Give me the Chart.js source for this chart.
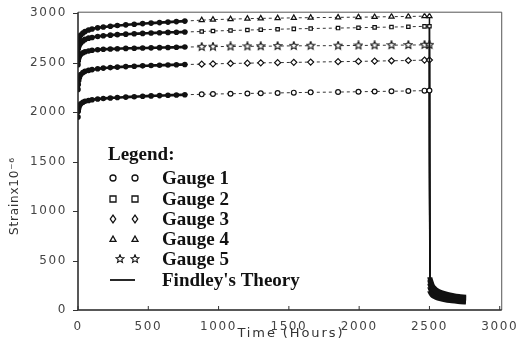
<!DOCTYPE html>
<html>
<head>
<meta charset="utf-8">
<script src="https://cdn.jsdelivr.net/npm/chart.js@4.4.0/dist/chart.umd.min.js"></script>
<style>
  html, body { margin: 0; padding: 0; background: #fff; }
</style>
</head>
<body>
<canvas id="creepChart" width="517" height="349"></canvas>
<script>
// time axis samples (hours)
const earlyHours = [0, 2, 5, 10, 20, 35, 50, 75, 100, 140, 180, 230, 280, 340, 400, 460, 520, 580, 640, 700, 760];
const laterHours = [880, 960, 1085, 1205, 1300, 1420, 1535, 1655, 1850, 1995, 2110, 2230, 2350, 2465, 2500];
const recoveryHours = [2500, 2503, 2510, 2520, 2535, 2555, 2580, 2610, 2645, 2680, 2720, 2760];

// strain x 10^-6
const gauge1Early = [1950, 2010, 2040, 2065, 2085, 2100, 2110, 2118, 2125, 2132, 2138, 2143, 2148, 2152, 2156, 2160, 2164, 2167, 2170, 2173, 2176];
const gauge2Early = [2600, 2640, 2660, 2680, 2700, 2720, 2735, 2748, 2755, 2765, 2772, 2778, 2783, 2788, 2792, 2796, 2800, 2803, 2806, 2808, 2810];
const gauge3Early = [2230, 2280, 2320, 2350, 2380, 2400, 2412, 2422, 2430, 2438, 2445, 2450, 2455, 2460, 2464, 2468, 2471, 2474, 2477, 2479, 2481];
const gauge4Early = [2690, 2720, 2740, 2760, 2780, 2800, 2815, 2830, 2840, 2852, 2860, 2868, 2875, 2882, 2888, 2895, 2900, 2905, 2910, 2915, 2920];
const gauge5Early = [2480, 2520, 2545, 2565, 2585, 2600, 2610, 2618, 2625, 2630, 2635, 2638, 2641, 2644, 2646, 2648, 2650, 2652, 2654, 2656, 2658];

const gauge1Later = [2180, 2183, 2186, 2189, 2191, 2194, 2197, 2200, 2203, 2206, 2209, 2211, 2214, 2217, 2218];
const gauge2Later = [2815, 2820, 2825, 2830, 2833, 2838, 2842, 2845, 2850, 2853, 2857, 2860, 2863, 2867, 2868];
const gauge3Later = [2485, 2488, 2492, 2495, 2498, 2500, 2503, 2506, 2510, 2513, 2516, 2519, 2522, 2526, 2527];
const gauge4Later = [2930, 2935, 2940, 2945, 2948, 2950, 2953, 2955, 2958, 2960, 2962, 2965, 2967, 2970, 2970];
const gauge5Later = [2660, 2662, 2664, 2665, 2666, 2668, 2670, 2671, 2672, 2674, 2675, 2677, 2678, 2680, 2680];

const gauge1Recovery = [2218, 190, 170, 150, 135, 123, 113, 104, 96, 90, 84, 80];
const gauge2Recovery = [2868, 300, 262, 228, 200, 180, 163, 150, 140, 130, 122, 116];
const gauge3Recovery = [2527, 230, 205, 180, 160, 145, 132, 122, 113, 105, 98, 92];
const gauge4Recovery = [2970, 330, 290, 250, 220, 195, 178, 165, 152, 142, 135, 128];
const gauge5Recovery = [2680, 265, 235, 205, 182, 163, 148, 136, 126, 118, 110, 104];

const gaugeNames = ['Gauge 1', 'Gauge 2', 'Gauge 3', 'Gauge 4', 'Gauge 5'];
const theoryName = "Findley's Theory";
const xTicks = [0, 500, 1000, 1500, 2000, 2500, 3000];

// Helper: pair x and y arrays into points
const toPoints = (xs, ys) => xs.map((x, i) => ({x: x, y: ys[i]}));

// open five point star used as a marker
function makeStar(size) {
    const c = document.createElement('canvas');
    c.width = size; c.height = size;
    const g = c.getContext('2d');
    const cx = size / 2, cy = size / 2, ro = size / 2 - 0.8, ri = ro * 0.45;
    g.beginPath();
    for (let i = 0; i < 10; i++) {
        const r = i % 2 === 0 ? ro : ri;
        const a = -Math.PI / 2 + i * Math.PI / 5;
        g.lineTo(cx + r * Math.cos(a), cy + r * Math.sin(a));
    }
    g.closePath();
    g.fillStyle = '#fff';
    g.fill();
    g.lineWidth = 1.1;
    g.strokeStyle = '#111';
    g.stroke();
    return c;
}
const starMarker = makeStar(10);

const markerStyles = ['circle', 'rect', 'rectRot', 'triangle', starMarker];
const markerRadius = [2.4, 2.4, 3, 3, 4];

const ink = '#111';

function gaugeDatasets(i, early, later, recovery) {
    return [
        {
            label: gaugeNames[i] + ' measured',
            data: toPoints(earlyHours, early),
            borderColor: ink,
            backgroundColor: ink,
            borderWidth: 2.6,
            pointRadius: 1.5,
            pointStyle: 'circle',
            tension: 0.3
        },
        {
            label: gaugeNames[i],
            data: toPoints([earlyHours[earlyHours.length - 1]].concat(laterHours), [early[early.length - 1]].concat(later)),
            borderColor: '#333',
            borderWidth: 1,
            borderDash: [3, 3],
            pointStyle: markerStyles[i],
            pointRadius: ctx => ctx.dataIndex === 0 ? 0 : markerRadius[i],
            pointBorderWidth: 1.2,
            pointBorderColor: ink,
            pointBackgroundColor: '#fff'
        },
        {
            label: gaugeNames[i] + ' recovery',
            data: toPoints(recoveryHours, recovery),
            borderColor: ink,
            borderWidth: 5,
            pointRadius: 0,
            tension: 0.2,
            segment: {
                borderWidth: ctx => ctx.p0DataIndex === 0 ? 1.5 : 5
            }
        }
    ];
}

const datasets = [].concat(
    gaugeDatasets(0, gauge1Early, gauge1Later, gauge1Recovery),
    gaugeDatasets(1, gauge2Early, gauge2Later, gauge2Recovery),
    gaugeDatasets(2, gauge3Early, gauge3Later, gauge3Recovery),
    gaugeDatasets(3, gauge4Early, gauge4Later, gauge4Recovery),
    gaugeDatasets(4, gauge5Early, gauge5Later, gauge5Recovery)
);

function drawMarker(ctx, style, x, y, r) {
    ctx.save();
    ctx.lineWidth = 1.3;
    ctx.strokeStyle = ink;
    ctx.fillStyle = '#fff';
    ctx.beginPath();
    if (style === 'circle') {
        ctx.arc(x, y, r, 0, Math.PI * 2);
    } else if (style === 'rect') {
        ctx.rect(x - r, y - r, 2 * r, 2 * r);
    } else if (style === 'rectRot') {
        ctx.moveTo(x, y - r * 1.3); ctx.lineTo(x + r * 0.9, y); ctx.lineTo(x, y + r * 1.3); ctx.lineTo(x - r * 0.9, y); ctx.closePath();
    } else if (style === 'triangle') {
        ctx.moveTo(x, y - r); ctx.lineTo(x + r, y + r * 0.8); ctx.lineTo(x - r, y + r * 0.8); ctx.closePath();
    } else {
        ctx.restore();
        ctx.drawImage(style, x - 5, y - 5);
        return;
    }
    ctx.fill();
    ctx.stroke();
    ctx.restore();
}

// frame, inner x ticks, axis titles and the in-plot legend
const decorations = {
    id: 'decorations',
    beforeDraw(chart) {
        chart.ctx.letterSpacing = '1.6px';
    },
    afterDraw(chart) {
        const ctx = chart.ctx;
        const a = chart.chartArea;
        const xs = chart.scales.x;
        const ys = chart.scales.y;
        ctx.save();
        ctx.letterSpacing = '0px';

        // box
        ctx.strokeStyle = '#555';
        ctx.lineWidth = 1;
        ctx.beginPath();
        ctx.moveTo(a.left, a.top - 1); ctx.lineTo(a.right + 2, a.top - 1); ctx.lineTo(a.right + 2, a.bottom);
        ctx.stroke();
        ctx.strokeStyle = '#222';
        ctx.lineWidth = 1.5;
        ctx.beginPath();
        ctx.moveTo(a.left, a.top - 1); ctx.lineTo(a.left, a.bottom); ctx.lineTo(a.right + 2, a.bottom);
        ctx.stroke();

        // inward x ticks, outward y ticks
        ctx.lineWidth = 1;
        ctx.strokeStyle = '#333';
        xTicks.forEach(v => {
            const px = xs.getPixelForValue(v);
            ctx.beginPath();
            ctx.moveTo(px, a.bottom);
            ctx.lineTo(px, a.bottom - 4);
            ctx.stroke();
        });
        ys.ticks.forEach(t => {
            const py = Math.round(ys.getPixelForValue(t.value)) + 0.5;
            ctx.beginPath();
            ctx.moveTo(a.left - 5, py);
            ctx.lineTo(a.left, py);
            ctx.stroke();
        });

        // axis titles
        ctx.fillStyle = '#333';
        ctx.font = '13px "DejaVu Sans"';
        ctx.letterSpacing = '1.9px';
        ctx.textAlign = 'center';
        ctx.textBaseline = 'middle';
        ctx.fillText('Time (Hours)', (a.left + a.right) / 2 + 2, 334);

        ctx.save();
        ctx.translate(15, 196);
        ctx.rotate(-Math.PI / 2);
        ctx.letterSpacing = '0.8px';
        ctx.font = '12px "DejaVu Sans"';
        ctx.fillText('Strainx10\u207B\u2076', 0, 0);
        ctx.restore();

        // legend
        ctx.letterSpacing = '0px';
        ctx.fillStyle = ink;
        ctx.textAlign = 'left';
        ctx.textBaseline = 'alphabetic';
        ctx.font = 'bold 19px "Liberation Serif"';
        ctx.fillText('Legend:', 108, 160);
        const rowY = [178, 199, 219, 239, 259];
        gaugeNames.forEach((name, i) => {
            const y = rowY[i];
            const x1 = i === 4 ? 120 : 113;
            drawMarker(ctx, markerStyles[i], x1, y, 3);
            drawMarker(ctx, markerStyles[i], 135, y, 3);
            ctx.fillStyle = ink;
            ctx.fillText(name, 162, y + 6);
        });
        ctx.strokeStyle = ink;
        ctx.lineWidth = 1.8;
        ctx.beginPath();
        ctx.moveTo(110, 280); ctx.lineTo(135, 280);
        ctx.stroke();
        ctx.fillText(theoryName, 162, 286);

        ctx.restore();
    }
};

const ctx1 = document.getElementById('creepChart');
const creepChart = new Chart(ctx1, {
    type: 'line',
    data: { datasets: datasets },
    options: {
        responsive: false,
        animation: false,
        devicePixelRatio: 1,
        layout: { padding: { top: 10, right: 17, left: 0, bottom: 0 } },
        plugins: {
            legend: { display: false },
            tooltip: { enabled: false }
        },
        scales: {
            x: {
                type: 'linear',
                min: 0,
                max: 3000,
                afterFit: scale => { scale.height = 39; },
                afterBuildTicks: scale => { scale.ticks = xTicks.map(v => ({value: v})); },
                border: { display: false },
                grid: { display: false },
                ticks: {
                    color: '#444',
                    padding: 2,
                    font: { family: 'DejaVu Sans', size: 12 },
                    maxRotation: 0,
                    callback: v => String(v)
                }
            },
            y: {
                type: 'linear',
                min: 0,
                max: 3000,
                afterFit: scale => { scale.width = 78; },
                border: { display: false },
                grid: { display: false, tickLength: 5 },
                ticks: {
                    stepSize: 500,
                    color: '#444',
                    padding: 6,
                    font: { family: 'DejaVu Sans', size: 12 },
                    callback: v => String(v)
                }
            }
        }
    },
    plugins: [decorations]
});
</script>
</body>
</html>
